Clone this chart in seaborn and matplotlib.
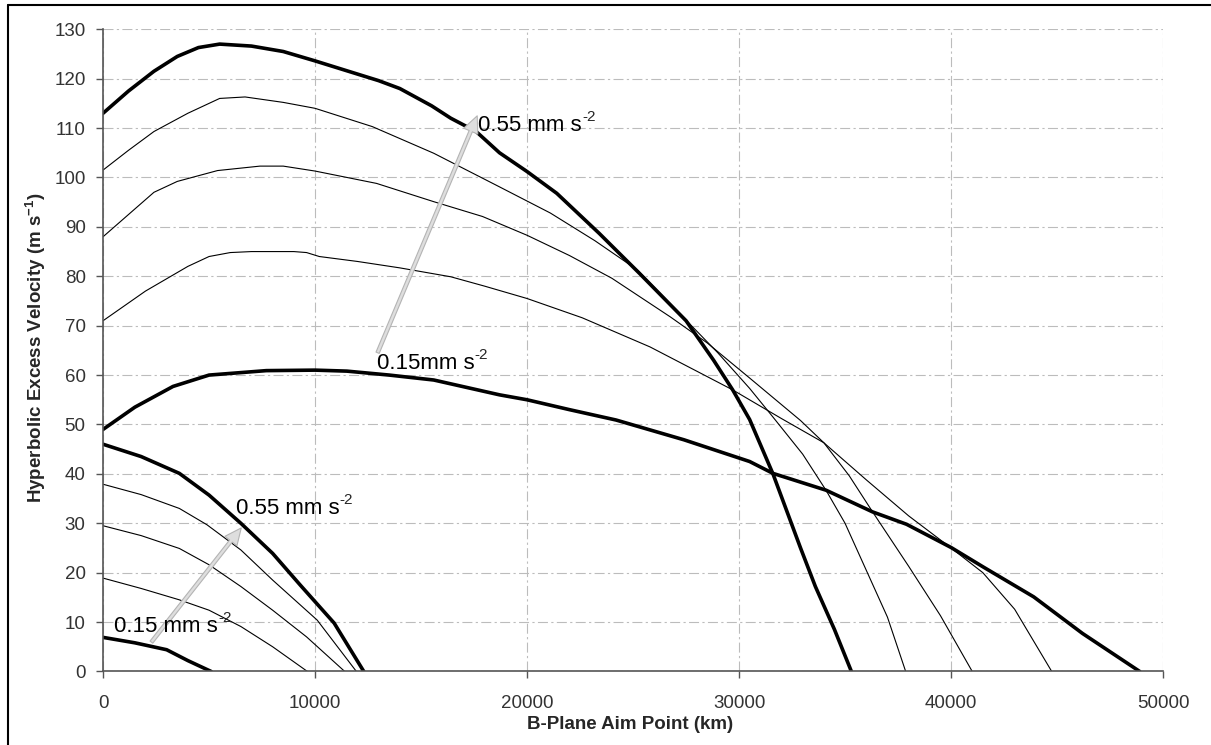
import numpy as np
import pandas as pd
import seaborn as sns
import matplotlib.pyplot as plt
from matplotlib.lines import Line2D

# upper family of curves (B-plane aim point in km, v_inf in m/s)
up055_x = [0, 1200, 2400, 3500, 4500, 5500, 7000, 8500, 10000, 11500, 13000, 14000, 15500, 16400, 17600,
           18700, 20000, 21400, 23400, 25300, 27500, 28800, 29700, 30500, 31600, 32900, 33600, 34500, 35300]
up055_y = [113, 117.5, 121.5, 124.5, 126.3, 127, 126.6, 125.5, 123.6, 121.6, 119.6, 118, 114.5, 112, 109.3,
           105, 101.2, 96.8, 88.7, 80.6, 71, 63, 57, 51, 40, 25, 17.2, 8.5, 0]

up_a_x = [0, 1200, 2400, 4000, 5500, 6700, 8500, 10000, 12700, 15600, 18700, 21100, 23200, 25200, 27800,
          29000, 30500, 31600, 33000, 34100, 35000, 36000, 37000, 37860]
up_a_y = [101.5, 105.5, 109.3, 113, 116, 116.3, 115.2, 114, 110.3, 104.9, 98.1, 92.8, 87.2, 81.3, 69.8,
          64.5, 57.3, 51.5, 44, 36.7, 30, 20.5, 11, 0]

up_b_x = [0, 1200, 2400, 3500, 5400, 7400, 8500, 10000, 12900, 15600, 17900, 20000, 22000, 24000, 26750,
          28500, 30500, 32900, 34000, 35200, 36300, 38000, 39500, 41000]
up_b_y = [88, 92.5, 97, 99.2, 101.4, 102.3, 102.3, 101.3, 98.8, 95.1, 92.1, 88.3, 84.2, 79.6, 71.8,
          66.5, 59.4, 50.8, 46.3, 39.6, 32.3, 21.3, 11.3, 0]

up_c_x = [0, 1000, 2000, 3000, 4000, 5000, 6000, 7000, 9000, 9600, 10200, 12000, 14000, 16400, 18000,
          20000, 22600, 25800, 28000, 29700, 32000, 34000, 36000, 38000, 40000, 41500, 43000, 44750]
up_c_y = [71, 74, 77, 79.5, 82, 84, 84.8, 85, 85, 84.8, 84, 83, 81.7, 79.9, 78,
          75.5, 71.6, 65.7, 60.8, 57, 51.2, 46.3, 38.8, 31.5, 25, 20, 12.6, 0]

up015_x = [0, 1500, 3300, 5000, 7700, 10000, 11500, 13500, 15600, 18700, 20000, 22000, 24200, 27400,
           30500, 31600, 34100, 36300, 37900, 40000, 41500, 43900, 46200, 48900]
up015_y = [49, 53.5, 57.7, 60, 60.9, 61, 60.8, 60, 59, 56, 55, 53, 50.9, 46.9,
           42.5, 40.1, 36.7, 32.3, 29.8, 25.1, 21.2, 15.1, 7.7, 0]

# lower family
lo055_x = [0, 1800, 3600, 5000, 6500, 8000, 9300, 10900, 12300]
lo055_y = [46, 43.5, 40.1, 35.7, 30, 23.9, 17.5, 9.8, 0]

lo_a_x = [0, 1800, 3600, 4900, 6500, 8000, 10100, 11950]
lo_a_y = [37.9, 35.8, 33, 29.7, 24.6, 18.5, 10.4, 0]

lo_b_x = [0, 1800, 3600, 5000, 6500, 8000, 9600, 11400]
lo_b_y = [29.5, 27.5, 24.9, 21.6, 17.2, 12.4, 7, 0]

lo_c_x = [0, 1800, 3600, 5000, 6500, 8000, 9640]
lo_c_y = [18.9, 16.8, 14.5, 12.4, 9.1, 5, 0]

lo015_x = [0, 1500, 3000, 4000, 5100]
lo015_y = [6.9, 5.8, 4.4, 2.2, 0]

curves = {
    'up055': (up055_x, up055_y, 2.6),
    'up_a': (up_a_x, up_a_y, 0.8),
    'up_b': (up_b_x, up_b_y, 0.8),
    'up_c': (up_c_x, up_c_y, 0.8),
    'up015': (up015_x, up015_y, 2.6),
    'lo055': (lo055_x, lo055_y, 2.6),
    'lo_a': (lo_a_x, lo_a_y, 0.8),
    'lo_b': (lo_b_x, lo_b_y, 0.8),
    'lo_c': (lo_c_x, lo_c_y, 0.8),
    'lo015': (lo015_x, lo015_y, 2.6),
}

frames = []
for name, (xs, ys, lw) in curves.items():
    frames.append(pd.DataFrame({'aim': xs, 'vel': ys, 'curve': name}))
df = pd.concat(frames, ignore_index=True)

sns.set_style('white')
plt.rcParams['font.family'] = ['Liberation Sans', 'DejaVu Sans']
plt.rcParams['mathtext.fontset'] = 'custom'
plt.rcParams['mathtext.rm'] = 'Liberation Sans'
plt.rcParams['mathtext.it'] = 'Liberation Sans:italic'
plt.rcParams['mathtext.bf'] = 'Liberation Sans:bold'

fig = plt.figure(figsize=(12.11, 7.45), dpi=100)
ax = fig.add_axes([0.0851, 0.0987, 0.8753, 0.862])

for name, (xs, ys, lw) in curves.items():
    sns.lineplot(data=df[df['curve'] == name], x='aim', y='vel', color='black',
                 linewidth=lw, estimator=None, sort=False, ax=ax)

ax.set_xlim(0, 50000)
ax.set_ylim(0, 130)
ax.set_xticks(np.arange(0, 50001, 10000))
ax.set_yticks(np.arange(0, 131, 10))
ax.grid(True, color='#bcbcbc', linestyle=(0, (9, 3, 2, 3)), linewidth=0.8)
ax.set_axisbelow(True)
for s in ['top', 'right']:
    ax.spines[s].set_visible(False)
for s in ['left', 'bottom']:
    ax.spines[s].set_color('#555555')
    ax.spines[s].set_linewidth(1.2)
ax.tick_params(direction='out', length=5, width=1, color='#555555',
               labelsize=13.5, labelcolor='#333333', left=True, bottom=True)
ax.tick_params(axis='x', pad=12)
ax.tick_params(axis='y', pad=7.5)
ax.set_xlabel('')
ax.set_ylabel('')

fig.text(0.520, 0.027, 'B-Plane Aim Point (km)', fontsize=13.5, fontweight='bold',
         ha='center', va='center')
fig.text(0.030, 0.533, 'Hyperbolic Excess Velocity (m s$^{\\mathbf{-1}}$)', fontsize=13.5,
         fontweight='bold', rotation=90, ha='center', va='center')

# grey arrows showing increasing acceleration
arrow_kw = dict(arrowstyle='simple,head_width=1.1,head_length=1.2,tail_width=0.25',
                facecolor='#dedede', edgecolor='#b4b4b4', lw=0.8)
ax.annotate('', xy=(17700, 113), xytext=(12900, 64), arrowprops=arrow_kw)
ax.annotate('', xy=(6600, 29.5), xytext=(2200, 5.5), arrowprops=arrow_kw)


def rate_label(x, y, base):
    t = ax.text(x, y, base, fontsize=16, va='center', ha='left', color='black')
    ax.annotate('-2', xy=(1, 0.93), xycoords=t, xytext=(0.5, 4.5), textcoords='offset points',
                fontsize=11, va='top', ha='left')


rate_label(17700, 110.6, '0.55 mm s')
rate_label(6250, 33, '0.55 mm s')
rate_label(12900, 62.4, '0.15mm s')
rate_label(500, 9.2, '0.15 mm s')

# chart frame (only top and left edges are inside the picture)
fig.add_artist(Line2D([8 / 1211, 1], [1 - 4.5 / 745, 1 - 4.5 / 745], color='black', lw=1.5,
                      transform=fig.transFigure))
fig.add_artist(Line2D([8 / 1211, 8 / 1211], [0, 1 - 4.5 / 745], color='black', lw=1.5,
                      transform=fig.transFigure))

fig.savefig('out.png', dpi=100)
